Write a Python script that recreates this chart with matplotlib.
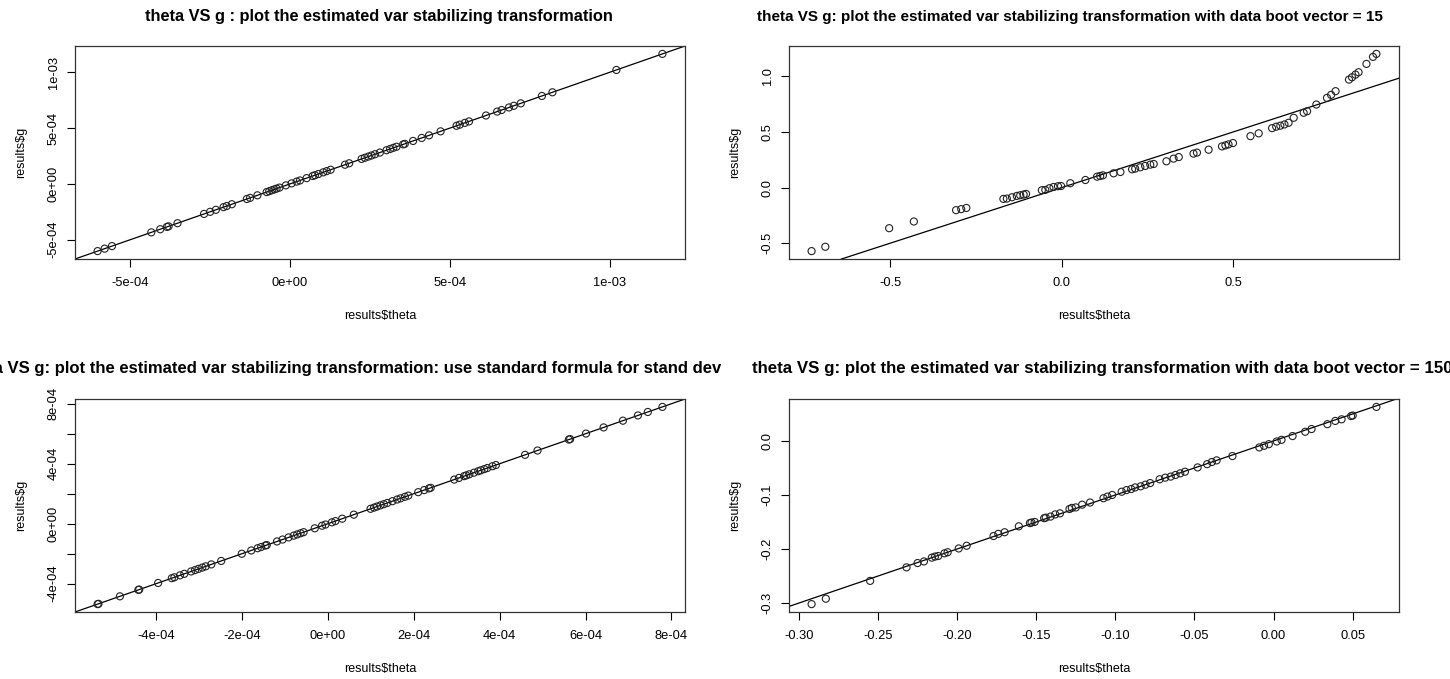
import matplotlib
matplotlib.use("Agg")
import matplotlib.pyplot as plt

plt.rcParams['font.family'] = ['Liberation Sans', 'DejaVu Sans']

W, H = 1450, 679

# panel 1: values in units of 1e-4
theta1 = [-6.02, -5.80, -5.57, -4.34, -4.06, -3.85, -3.80, -3.52, -2.69, -2.50, -2.32, -2.08,
          -1.98, -1.82, -1.35, -1.25, -1.02, -0.73, -0.65, -0.57, -0.49, -0.42, -0.33, -0.13,
          0.05, 0.21, 0.31, 0.52, 0.71, 0.78, 0.89, 1.04, 1.15, 1.27, 1.72, 1.85, 2.24, 2.34,
          2.45, 2.55, 2.66, 2.81, 3.02, 3.13, 3.23, 3.33, 3.54, 3.59, 3.85, 4.12, 4.35, 4.71,
          5.21, 5.31, 5.47, 5.60, 6.13, 6.48, 6.62, 6.85, 7.00, 7.22, 7.88, 8.21, 10.21, 11.65]
g1 = [-6.02, -5.80, -5.57, -4.34, -4.06, -3.85, -3.80, -3.52, -2.69, -2.50, -2.32, -2.08,
      -1.98, -1.82, -1.35, -1.25, -1.02, -0.73, -0.65, -0.57, -0.49, -0.42, -0.33, -0.13,
      0.05, 0.21, 0.31, 0.52, 0.71, 0.78, 0.89, 1.04, 1.15, 1.27, 1.72, 1.85, 2.24, 2.34,
      2.45, 2.55, 2.66, 2.81, 3.02, 3.13, 3.23, 3.33, 3.54, 3.59, 3.85, 4.12, 4.35, 4.71,
      5.21, 5.31, 5.47, 5.60, 6.13, 6.48, 6.62, 6.85, 7.00, 7.22, 7.88, 8.21, 10.21, 11.65]

# panel 2: boot vector = 15
theta2 = [-0.729, -0.689, -0.503, -0.431, -0.308, -0.293, -0.278, -0.170, -0.160, -0.145,
          -0.131, -0.121, -0.111, -0.104, -0.058, -0.048, -0.036, -0.024, -0.011, -0.002,
          0.025, 0.069, 0.103, 0.112, 0.120, 0.151, 0.171, 0.205, 0.214, 0.229, 0.243,
          0.258, 0.268, 0.305, 0.326, 0.341, 0.384, 0.394, 0.428, 0.467, 0.477, 0.486,
          0.499, 0.550, 0.574, 0.613, 0.625, 0.637, 0.649, 0.661, 0.676, 0.705, 0.715,
          0.742, 0.773, 0.785, 0.798, 0.837, 0.846, 0.856, 0.865, 0.888, 0.907, 0.917]
g2 = [-0.571, -0.532, -0.365, -0.305, -0.203, -0.194, -0.183, -0.102, -0.099, -0.087,
      -0.075, -0.069, -0.063, -0.057, -0.024, -0.021, -0.006, 0.005, 0.012, 0.014,
      0.039, 0.068, 0.098, 0.104, 0.110, 0.128, 0.140, 0.164, 0.170, 0.182, 0.194,
      0.206, 0.212, 0.236, 0.260, 0.274, 0.305, 0.314, 0.340, 0.370, 0.379, 0.388,
      0.400, 0.462, 0.487, 0.534, 0.547, 0.556, 0.567, 0.582, 0.627, 0.672, 0.686,
      0.746, 0.806, 0.833, 0.866, 0.970, 0.991, 1.015, 1.036, 1.111, 1.174, 1.201]

# panel 3: standard formula, units of 1e-4
theta3 = [-5.37, -5.35, -4.85, -4.42, -4.40, -3.96, -3.64, -3.58, -3.45, -3.35, -3.19, -3.10,
          -3.02, -2.93, -2.85, -2.72, -2.49, -2.01, -1.79, -1.64, -1.56, -1.46, -1.43, -1.19,
          -1.06, -0.92, -0.80, -0.72, -0.64, -0.57, -0.31, -0.14, -0.06, 0.09, 0.17, 0.33,
          0.60, 0.99, 1.07, 1.14, 1.22, 1.30, 1.38, 1.50, 1.61, 1.69, 1.79, 1.87, 2.10, 2.24,
          2.35, 2.39, 2.94, 3.05, 3.17, 3.22, 3.29, 3.40, 3.50, 3.56, 3.64, 3.71, 3.83, 3.91,
          4.59, 4.88, 5.61, 5.64, 6.01, 6.42, 6.87, 7.22, 7.45, 7.79]
g3 = [-5.37, -5.35, -4.85, -4.42, -4.40, -3.96, -3.64, -3.58, -3.45, -3.35, -3.19, -3.10,
      -3.02, -2.93, -2.85, -2.72, -2.49, -2.01, -1.79, -1.64, -1.56, -1.46, -1.43, -1.19,
      -1.06, -0.92, -0.80, -0.72, -0.64, -0.57, -0.31, -0.14, -0.06, 0.09, 0.17, 0.33,
      0.60, 0.99, 1.07, 1.14, 1.22, 1.30, 1.38, 1.50, 1.61, 1.69, 1.79, 1.87, 2.10, 2.24,
      2.35, 2.39, 2.94, 3.05, 3.17, 3.22, 3.29, 3.40, 3.50, 3.56, 3.64, 3.71, 3.83, 3.91,
      4.59, 4.88, 5.61, 5.64, 6.01, 6.42, 6.87, 7.22, 7.45, 7.79]

# panel 4: boot vector = 150
theta4 = [-0.292, -0.283, -0.255, -0.232, -0.225, -0.221, -0.216, -0.214, -0.212, -0.208,
          -0.206, -0.199, -0.194, -0.177, -0.174, -0.170, -0.161, -0.154, -0.153, -0.151,
          -0.145, -0.144, -0.141, -0.138, -0.135, -0.129, -0.1275, -0.125, -0.121, -0.116,
          -0.1075, -0.105, -0.102, -0.096, -0.093, -0.090, -0.0875, -0.084, -0.081, -0.078,
          -0.072, -0.0685, -0.065, -0.062, -0.059, -0.056, -0.048, -0.042, -0.039, -0.036,
          -0.026, -0.009, -0.006, -0.003, 0.002, 0.005, 0.012, 0.020, 0.024, 0.034, 0.039,
          0.043, 0.049, 0.050, 0.065]
g4 = [-0.302, -0.292, -0.259, -0.234, -0.226, -0.223, -0.216, -0.214, -0.213, -0.208,
      -0.206, -0.199, -0.194, -0.176, -0.172, -0.169, -0.158, -0.152, -0.151, -0.150,
      -0.143, -0.142, -0.140, -0.136, -0.134, -0.126, -0.124, -0.123, -0.118, -0.114,
      -0.106, -0.103, -0.100, -0.094, -0.091, -0.089, -0.086, -0.084, -0.081, -0.078,
      -0.071, -0.068, -0.066, -0.063, -0.060, -0.057, -0.049, -0.043, -0.039, -0.036,
      -0.028, -0.012, -0.009, -0.006, -0.001, 0.002, 0.009, 0.017, 0.022, 0.031, 0.037,
      0.040, 0.046, 0.047, 0.063]

titles = ["theta VS g : plot the estimated var stabilizing transformation",
          "theta VS g: plot the estimated var stabilizing transformation with data boot vector = 15",
          "theta VS g: plot the estimated var stabilizing transformation: use standard formula for stand dev",
          "theta VS g: plot the estimated var stabilizing transformation with data boot vector = 150"]

xticks = [[-5e-4, 0, 5e-4, 1e-3], [-0.5, 0.0, 0.5],
          [-4e-4, -2e-4, 0, 2e-4, 4e-4, 6e-4, 8e-4],
          [-0.30, -0.25, -0.20, -0.15, -0.10, -0.05, 0.00, 0.05]]
xlabels = [["-5e-04", "0e+00", "5e-04", "1e-03"], ["-0.5", "0.0", "0.5"],
           ["-4e-04", "-2e-04", "0e+00", "2e-04", "4e-04", "6e-04", "8e-04"],
           ["-0.30", "-0.25", "-0.20", "-0.15", "-0.10", "-0.05", "0.00", "0.05"]]
yticks = [[-5e-4, 0, 5e-4, 1e-3], [-0.5, 0.0, 0.5, 1.0],
          [-4e-4, -2e-4, 0, 2e-4, 4e-4, 6e-4, 8e-4], [-0.3, -0.2, -0.1, 0.0]]
ylabels = [["-5e-04", "0e+00", "5e-04", "1e-03"], ["-0.5", "0.0", "0.5", "1.0"],
           ["-4e-04", "", "0e+00", "", "4e-04", "", "8e-04"], ["-0.3", "-0.2", "-0.1", "0.0"]]

data = [([v * 1e-4 for v in theta1], [v * 1e-4 for v in g1]),
        (theta2, g2),
        ([v * 1e-4 for v in theta3], [v * 1e-4 for v in g3]),
        (theta4, g4)]

# plot boxes in pixels: left, top, right, bottom
boxes = [(75, 46, 685, 259), (789, 46, 1399, 259),
         (75, 399, 685, 612), (789, 399, 1399, 612)]

fig = plt.figure(figsize=(W / 100, H / 100), dpi=100)

for i, (x, y) in enumerate(data):
    l, t, r, b = boxes[i]
    ax = fig.add_axes([l / W, 1 - b / H, (r - l) / W, (b - t) / H])
    ax.scatter(x, y, s=26, facecolors='none', edgecolors='#222222', linewidths=0.8, zorder=3)
    ax.margins(0.04)
    ax.axline((0, 0), slope=1, color='black', lw=0.9)
    ax.set_xticks(xticks[i])
    ax.set_xticklabels(xlabels[i])
    ax.set_yticks(yticks[i])
    ax.set_yticklabels(ylabels[i], rotation=90, va='center')
    ax.tick_params(direction='out', length=6, width=0.8, labelsize=9.3)
    ax.tick_params(axis='x', pad=7)
    ax.tick_params(axis='y', pad=5)
    for sp in ax.spines.values():
        sp.set_linewidth(0.9)
        sp.set_color('#333333')

    cx = (l + r) / 2 / W
    cy = 1 - (t + b) / 2 / H
    fig.text(cx, 1 - (b + 57) / H, "results$theta", ha='center', va='center', fontsize=9)
    fig.text((l - 54) / W, cy, "results$g", ha='center', va='center', rotation=90, fontsize=9)

# titles (the long ones run off the window edges, as in the R screenshot)
fig.text(379 / W, 1 - 17 / H, titles[0], ha='center', va='center', fontsize=11.8, fontweight='bold')
fig.text(757 / W, 1 - 17 / H, titles[1], ha='left', va='center', fontsize=11.0, fontweight='bold')
fig.text(721 / W, 1 - 368 / H, titles[2], ha='right', va='center', fontsize=12.0, fontweight='bold')
fig.text(752 / W, 1 - 368 / H, titles[3], ha='left', va='center', fontsize=12.2, fontweight='bold')

fig.savefig("out.png", dpi=100)
